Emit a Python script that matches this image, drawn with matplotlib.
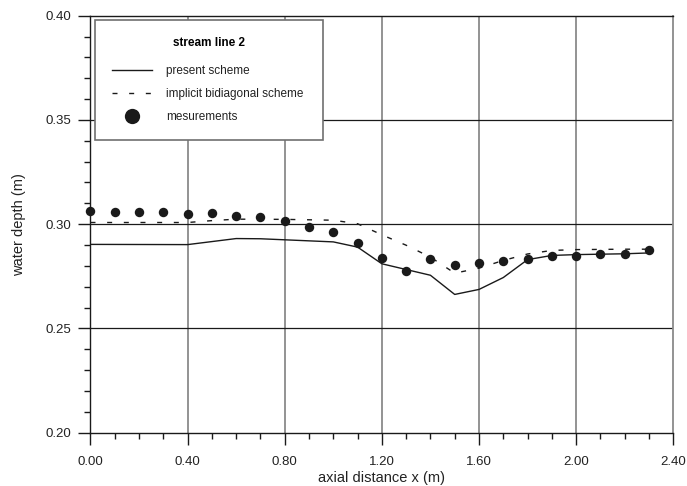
import matplotlib
matplotlib.use("Agg")
import matplotlib.pyplot as plt
from matplotlib.lines import Line2D
from matplotlib.ticker import MultipleLocator, FormatStrFormatter

plt.rcParams["font.family"] = ["Liberation Sans", "DejaVu Sans"]

# present scheme (solid line)
x_present = [0.0, 0.4, 0.6, 0.7, 1.0, 1.1, 1.2, 1.4, 1.5, 1.6, 1.7, 1.8, 1.9, 2.0, 2.1, 2.2, 2.3]
h_present = [0.2903, 0.2902, 0.2931, 0.2930, 0.2915, 0.2890, 0.2810, 0.2755, 0.2663,
             0.2687, 0.2744, 0.2830, 0.2850, 0.2854, 0.2856, 0.2858, 0.2862]

# implicit bidiagonal scheme (dashed line)
x_implicit = [0.0, 0.4, 0.5, 0.6, 0.8, 1.0, 1.1, 1.2, 1.3, 1.4, 1.5, 1.6, 1.7, 1.8, 1.9, 2.0, 2.1, 2.2, 2.3]
h_implicit = [0.3008, 0.3008, 0.3017, 0.3024, 0.3023, 0.3019, 0.3002, 0.2949, 0.2899, 0.2842,
              0.2765, 0.2789, 0.2826, 0.2857, 0.2874, 0.2878, 0.2879, 0.2880, 0.2880]

# measurements
x_meas = [0.0, 0.1, 0.2, 0.3, 0.4, 0.5, 0.6, 0.7, 0.8, 0.9, 1.0, 1.1, 1.2,
          1.3, 1.4, 1.5, 1.6, 1.7, 1.8, 1.9, 2.0, 2.1, 2.2, 2.3]
h_meas = [0.3062, 0.3059, 0.3056, 0.3059, 0.3051, 0.3053, 0.3040, 0.3035, 0.3013,
          0.2986, 0.2963, 0.2912, 0.2838, 0.2775, 0.2834, 0.2802, 0.2814, 0.2824,
          0.2834, 0.2847, 0.2847, 0.2856, 0.2856, 0.2875]

x_ticks = [0.0, 0.4, 0.8, 1.2, 1.6, 2.0, 2.4]
y_ticks = [0.20, 0.25, 0.30, 0.35, 0.40]

fig = plt.figure(figsize=(6.87, 4.86), dpi=100)
ax = fig.add_axes([0.1317, 0.1097, 0.8483, 0.8581])

ax.set_xlim(0.0, 2.4)
ax.set_ylim(0.20, 0.40)

# grid: grey verticals, black horizontals
for xv in x_ticks[1:-1]:
    ax.axvline(xv, color="#8a8a8a", lw=1.3, zorder=1)
for yv in y_ticks[1:-1]:
    ax.axhline(yv, color="#1a1a1a", lw=0.9, zorder=1)

ax.plot(x_present, h_present, color="#1a1a1a", lw=1.0, zorder=3)
ax.plot(x_implicit, h_implicit, color="#1a1a1a", lw=1.0, dashes=(3.6, 8.4), zorder=3)
ax.plot(x_meas, h_meas, "o", color="#1a1a1a", ms=6.8, mec="none", zorder=4, clip_on=False)

for s in ["left", "bottom", "top"]:
    ax.spines[s].set_color("#1a1a1a")
    ax.spines[s].set_linewidth(1.0)
ax.spines["right"].set_color("#8a8a8a")
ax.spines["right"].set_linewidth(1.3)

ax.set_xticks(x_ticks)
ax.set_yticks(y_ticks)
ax.xaxis.set_minor_locator(MultipleLocator(0.1))
ax.yaxis.set_minor_locator(MultipleLocator(0.01))
ax.xaxis.set_major_formatter(FormatStrFormatter("%.2f"))
ax.yaxis.set_major_formatter(FormatStrFormatter("%.2f"))
ax.tick_params(axis="both", which="major", direction="out", length=8.6, width=1.0,
               color="#1a1a1a", labelsize=9.5, labelcolor="#222222")
ax.tick_params(axis="x", which="major", pad=8)
ax.tick_params(axis="y", which="major", pad=5)
ax.tick_params(axis="both", which="minor", direction="out", length=4.2, width=1.0,
               color="#1a1a1a")

ax.set_xlabel("axial distance x (m)", fontsize=10.5, color="#222222", labelpad=2)
ax.set_ylabel("water depth (m)", fontsize=10.5, color="#222222", labelpad=14)

handles = [
    Line2D([], [], color="#1a1a1a", lw=1.0),
    Line2D([], [], color="#1a1a1a", lw=1.0, dashes=(3.6, 8.4)),
    Line2D([], [], ls="none", marker="o", color="#1a1a1a", ms=11, mec="none"),
]
labels = ["present scheme", "implicit bidiagonal scheme", "mesurements"]
leg = ax.legend(handles, labels, title="stream line 2",
                loc="upper left", bbox_to_anchor=(0.0077, 0.697, 0.391, 0.2927),
                mode="expand", fontsize=8.5, title_fontproperties={"weight": "bold", "size": 8.5},
                frameon=True, fancybox=False, edgecolor="#707070", framealpha=1,
                borderpad=1.45, handlelength=3.4, handletextpad=1.15, labelspacing=0.93,
                borderaxespad=0)
# a little more room between the title and the entries
leg._legend_box.sep = 11.5
leg.get_frame().set_linewidth(1.2)
leg.set_zorder(5)
for t in leg.get_texts():
    t.set_color("#222222")

fig.savefig("out.png", dpi=100)
